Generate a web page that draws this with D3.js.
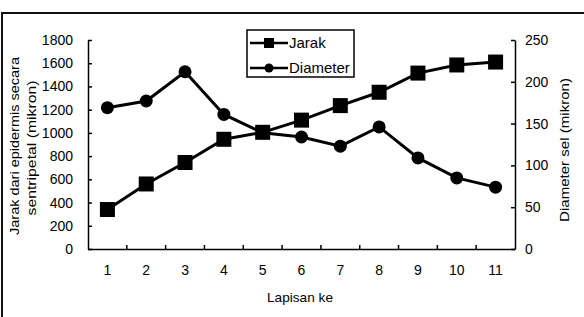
<!DOCTYPE html>
<html>
<head>
<meta charset="utf-8">
<script src="https://cdn.jsdelivr.net/npm/d3@7"></script>
<style>
  body { margin: 0; background: #fff; }
  text { font-family: Arial, "Liberation Sans", sans-serif; fill: #000; }
</style>
</head>
<body>
<svg id="chart"></svg>
<script>
// data
const layers = ['1', '2', '3', '4', '5', '6', '7', '8', '9', '10', '11']
const jarak = [340, 560, 745, 945, 1005, 1110, 1235, 1350, 1515, 1585, 1610]
const diameter = [169, 177, 212, 161, 139, 134, 123, 146, 109, 85, 74]
const leftTicks = [0, 200, 400, 600, 800, 1000, 1200, 1400, 1600, 1800]
const rightTicks = [0, 50, 100, 150, 200, 250]

const W = 584, H = 317
const svg = d3.select('#chart').attr('width', W).attr('height', H)

// outer frame (right/bottom edges run off the picture)
svg.append('rect')
    .attr('x', 2).attr('y', 13)
    .attr('width', 600).attr('height', 400)
    .attr('fill', 'none')
    .attr('stroke', '#111')
    .attr('stroke-width', 2)

const plotL = 88, plotR = 515, plotT = 40, plotB = 249

const x = d3.scaleBand().domain(layers).range([plotL, plotR])
const yL = d3.scaleLinear().domain([0, 1800]).range([plotB, plotT])
const yR = d3.scaleLinear().domain([0, 250]).range([plotB, plotT])

// axes - ticks point inside the plot
const xAxis = d3.axisBottom(x).tickSize(0).tickPadding(16)
const gx = svg.append('g').attr('transform', `translate(0,${plotB})`).call(xAxis)
gx.selectAll('.tick text').style('font-size', '14px')
gx.select('.domain').attr('stroke', '#000').attr('stroke-width', 1.5)
// category separators
gx.selectAll('.sep')
    .data(layers.slice(1))
    .join('line')
    .attr('x1', d => x(d)).attr('x2', d => x(d))
    .attr('y1', 0).attr('y2', -4)
    .attr('stroke', '#000').attr('stroke-width', 1.5)

const gl = svg.append('g').attr('transform', `translate(${plotL},0)`)
    .call(d3.axisLeft(yL).tickValues(leftTicks).tickFormat(d3.format('d'))
        .tickSizeInner(-4).tickSizeOuter(0).tickPadding(15))
const gr = svg.append('g').attr('transform', `translate(${plotR},0)`)
    .call(d3.axisRight(yR).tickValues(rightTicks).tickFormat(d3.format('d'))
        .tickSizeInner(-4).tickSizeOuter(0).tickPadding(10))
;[gl, gr].forEach(g => {
    g.selectAll('.tick text').style('font-size', '14px')
    g.selectAll('line').attr('stroke', '#000').attr('stroke-width', 1.5)
    g.select('.domain').attr('stroke', '#000').attr('stroke-width', 1.5)
})

// axis titles: centre point + length measured on the reference,
// text is stretched horizontally to that length
const title = (tx, ty, rot, len, size, str) => {
    const t = svg.append('text')
        .attr('text-anchor', 'middle')
        .style('font-size', size + 'px')
        .text(str)
    const nat = t.node().getComputedTextLength()
    t.attr('transform', `translate(${tx},${ty}) rotate(${rot}) scale(${len / nat},1)`)
}
title(19, 146, -90, 178, 12, 'Jarak dari epidermis secara')
title(36, 148, -90, 135, 12, 'sentripetal (mikron)')
title(569, 150, -90, 144, 13, 'Diameter sel (mikron)')
title(300, 302, 0, 66, 13, 'Lapisan ke')

const cx = d => x(d) + x.bandwidth() / 2

// Jarak series (squares)
svg.append('path')
    .datum(jarak)
    .attr('fill', 'none').attr('stroke', '#000').attr('stroke-width', 3)
    .attr('d', d3.line().x((d, i) => cx(layers[i])).y(d => yL(d)))
svg.selectAll('.sq')
    .data(jarak)
    .join('rect')
    .attr('x', (d, i) => cx(layers[i]) - 7.5)
    .attr('y', d => yL(d) - 7.5)
    .attr('width', 15).attr('height', 15)
    .attr('fill', '#000')

// Diameter series (circles)
svg.append('path')
    .datum(diameter)
    .attr('fill', 'none').attr('stroke', '#000').attr('stroke-width', 3)
    .attr('d', d3.line().x((d, i) => cx(layers[i])).y(d => yR(d)))
svg.selectAll('.ci')
    .data(diameter)
    .join('circle')
    .attr('cx', (d, i) => cx(layers[i]))
    .attr('cy', d => yR(d))
    .attr('r', 6.5)
    .attr('fill', '#000')

// legend
const lg = svg.append('g')
lg.append('rect')
    .attr('x', 247).attr('y', 30).attr('width', 107).attr('height', 47)
    .attr('fill', '#fff').attr('stroke', '#000').attr('stroke-width', 1.5)
const items = [{ name: 'Jarak', shape: 'sq', y: 43 }, { name: 'Diameter', shape: 'ci', y: 68 }]
items.forEach(it => {
    lg.append('line')
        .attr('x1', 250).attr('x2', 288).attr('y1', it.y).attr('y2', it.y)
        .attr('stroke', '#000').attr('stroke-width', 2.5)
    if (it.shape == 'sq') {
        lg.append('rect').attr('x', 264).attr('y', it.y - 5).attr('width', 10).attr('height', 10).attr('fill', '#000')
    } else {
        lg.append('circle').attr('cx', 269).attr('cy', it.y).attr('r', 4.5).attr('fill', '#000')
    }
    lg.append('text')
        .attr('x', 289).attr('y', it.y + 5)
        .style('font-size', '15px')
        .text(it.name)
})
</script>
</body>
</html>
